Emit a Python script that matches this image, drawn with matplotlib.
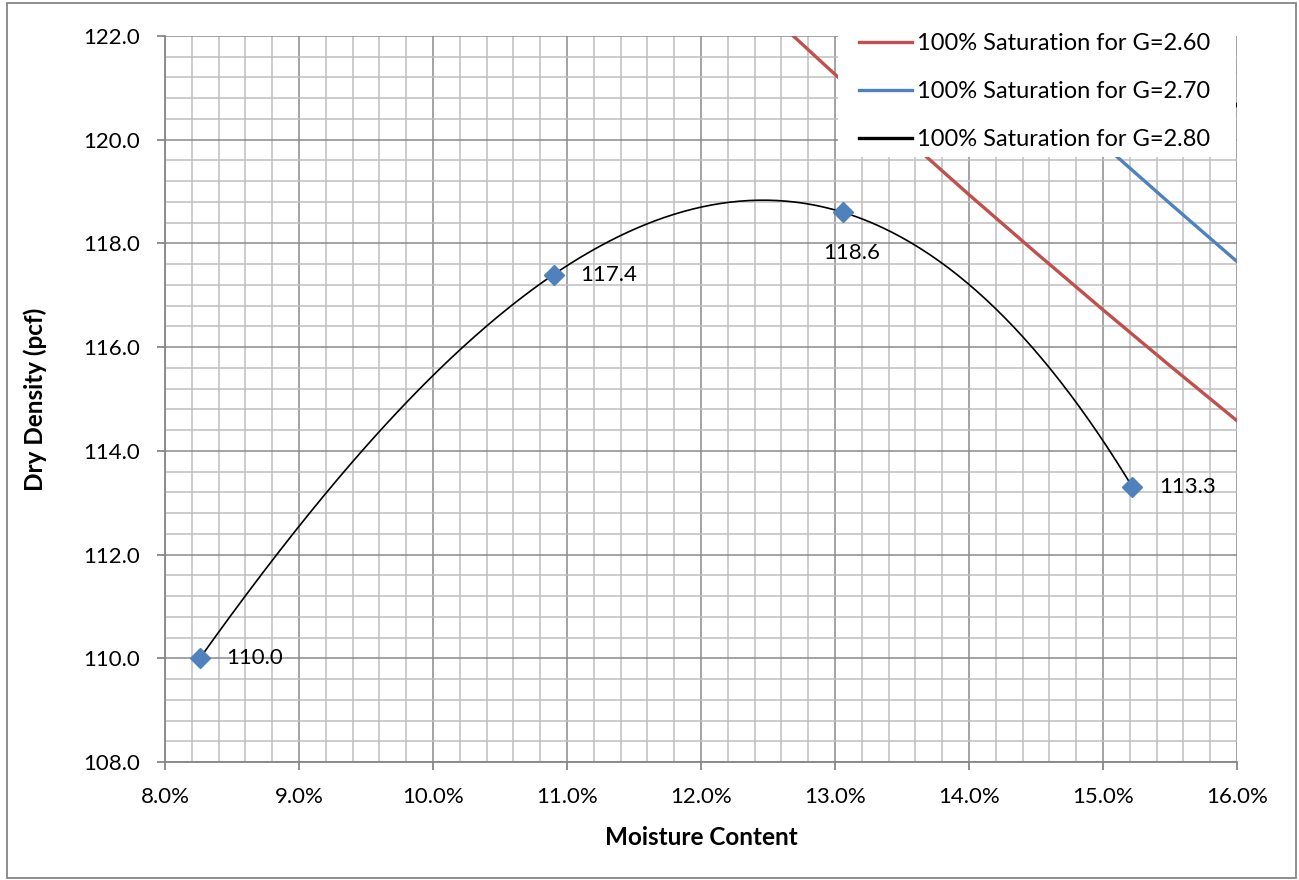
import numpy as np
import matplotlib
matplotlib.use("Agg")
import matplotlib.pyplot as plt
from matplotlib.ticker import MultipleLocator, FuncFormatter
from matplotlib.patches import Rectangle

plt.rcParams['font.family'] = ['Lato', 'DejaVu Sans']

# Compaction test results
moisture = [8.26, 10.90, 13.06, 15.22]          # %
dry_density = [110.0, 117.4, 118.6, 113.3]      # pcf
point_labels = ["110.0", "117.4", "118.6", "113.3"]

# Zero-air-voids (100% saturation) lines
sat_moisture = [12.0, 12.5, 13.0, 13.5, 14.0, 14.5, 15.0, 15.5, 16.0]
sat_g260 = [123.66, 122.45, 121.26, 120.09, 118.94, 117.82, 116.72, 115.64, 114.58]
sat_g270 = [127.25, 125.97, 124.71, 123.47, 122.26, 121.08, 119.91, 118.77, 117.65]
sat_g280 = [130.78, 129.42, 128.09, 126.79, 125.52, 124.27, 123.04, 121.84, 120.66]
sat_names = ["100% Saturation for G=2.60", "100% Saturation for G=2.70",
             "100% Saturation for G=2.80"]

W, H = 1299, 880
fig = plt.figure(figsize=(W / 100, H / 100), dpi=100)
fig.patch.set_facecolor("white")

# chart frame
fig.add_artist(Rectangle((7 / W, 2 / H), (W - 10) / W, (H - 5) / H,
                         transform=fig.transFigure, fill=False,
                         edgecolor="#868686", linewidth=1.3))

left, right, top, bottom = 165, 1237, 36, 762
ax = fig.add_axes([left / W, 1 - bottom / H, (right - left) / W, (bottom - top) / H])

ax.set_xlim(8, 16)
ax.set_ylim(108, 122)

ax.xaxis.set_major_locator(MultipleLocator(1))
ax.xaxis.set_minor_locator(MultipleLocator(0.2))
ax.yaxis.set_major_locator(MultipleLocator(2))
ax.yaxis.set_minor_locator(MultipleLocator(0.4))
ax.xaxis.set_major_formatter(FuncFormatter(lambda v, p: f"{v:.1f}%"))
ax.yaxis.set_major_formatter(FuncFormatter(lambda v, p: f"{v:.1f}"))

ax.grid(which="major", color="#8a8a8a", linewidth=1.1)
ax.grid(which="minor", color="#bfbfbf", linewidth=1.1)
ax.set_axisbelow(True)

for s in ["top", "right"]:
    ax.spines[s].set_visible(False)
for s in ["left", "bottom"]:
    ax.spines[s].set_color("#868686")
    ax.spines[s].set_linewidth(1.3)

ax.tick_params(which="major", direction="out", length=6, width=1.3, color="#868686",
               labelsize=16, pad=12)
ax.tick_params(which="minor", length=0)

# saturation lines
h1, = ax.plot(sat_moisture, sat_g260, color="#C0504D", linewidth=2.4, zorder=3)
h2, = ax.plot(sat_moisture, sat_g270, color="#4F81BD", linewidth=2.4, zorder=3)
h3, = ax.plot(sat_moisture, sat_g280, color="black", linewidth=2.4, zorder=3)

# cubic trendline through the test points
coef = np.polyfit(moisture, dry_density, 3)
xs = np.linspace(moisture[0], moisture[-1], 300)
ax.plot(xs, np.polyval(coef, xs), color="black", linewidth=1.2, zorder=4)

ax.plot(moisture, dry_density, linestyle="none", marker="D", markersize=10,
        color="#4F81BD", zorder=5)

offsets = [(19, 0, "left"), (19, 0, "left"), (6, -29, "center"), (19, 0, "left")]
for x, y, t, (dx, dy, ha) in zip(moisture, dry_density, point_labels, offsets):
    ax.annotate(t, (x, y), xytext=(dx, dy), textcoords="offset points",
                ha=ha, va="center", fontsize=16, zorder=6)

ax.set_xlabel("Moisture Content", fontsize=17.5, fontweight="bold", labelpad=14)
ax.set_ylabel("Dry Density (pcf)", fontsize=17.5, fontweight="bold", labelpad=26)

# legend on a white panel over the top-right of the plot
fig.add_artist(Rectangle((838 / W, 1 - 157 / H), (1236 - 838) / W, (157 - 30) / H,
                         transform=fig.transFigure, facecolor="white",
                         edgecolor="none", zorder=2))
leg = fig.legend([h1, h2, h3], sat_names, loc="upper left",
                 bbox_to_anchor=(859 / W, 1 - 33.5 / H), frameon=False,
                 fontsize=17, handlelength=2.25, handletextpad=0.21,
                 labelspacing=1.13, borderpad=0, borderaxespad=0)
leg.set_zorder(3)

fig.savefig("out.png", dpi=100)
